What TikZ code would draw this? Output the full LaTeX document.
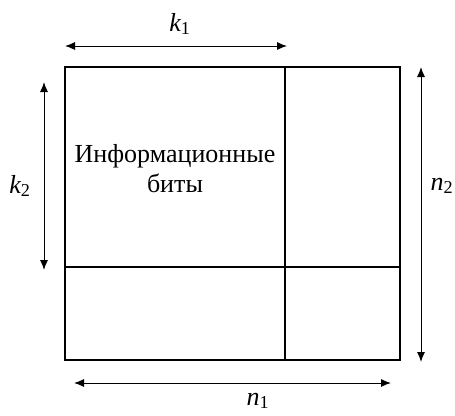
\documentclass[tikz,border=0pt]{standalone}
\usepackage{fontspec}
\setmainfont{Liberation Serif}
\usetikzlibrary{arrows.meta, positioning}

\newcommand{\lbl}[2]{{\itshape #1}\textsubscript{#2}}

\begin{document}
\begin{tikzpicture}[x=1pt, y=-1pt,
    gridline/.style={line width=2.2pt},
    dimarrow/.style={{Latex[length=10pt,width=8pt]}-{Latex[length=10pt,width=8pt]}, line width=1pt},
    txt/.style={font=\fontsize{26}{30}\selectfont}]
    \useasboundingbox (0, 0) rectangle (455, 415);

    % блок
    \draw[gridline] (65, 67) rectangle (400, 360);
    \draw[gridline] (285, 67) -- (285, 360);
    \draw[gridline] (65, 267) -- (400, 267);
    \node[txt, align=center] (info) at (175, 169) {Информационные\\биты};

    % размеры
    \coordinate (k1a) at (65, 46);
    \coordinate (k1b) at (287, 46);
    \draw[dimarrow] (k1a) -- (k1b);
    \node[txt] (k1) at (180, 24) {\lbl{k}{1}};

    \coordinate (k2a) at (44, 82);
    \coordinate (k2b) at (44, 270);
    \draw[dimarrow] (k2a) -- (k2b);
    \node[txt] (k2) at (20, 186) {\lbl{k}{2}};

    \coordinate (n2a) at (421, 67);
    \coordinate (n2b) at (421, 362);
    \draw[dimarrow] (n2a) -- (n2b);
    \node[txt] (n2) at (442, 186) {\lbl{n}{2}};

    \coordinate (n1a) at (74, 383);
    \coordinate (n1b) at (391, 383);
    \draw[dimarrow] (n1a) -- (n1b);
    \node[txt, inner sep=1pt] (n1) at (258, 401) {\lbl{n}{1}};
\end{tikzpicture}
\end{document}
